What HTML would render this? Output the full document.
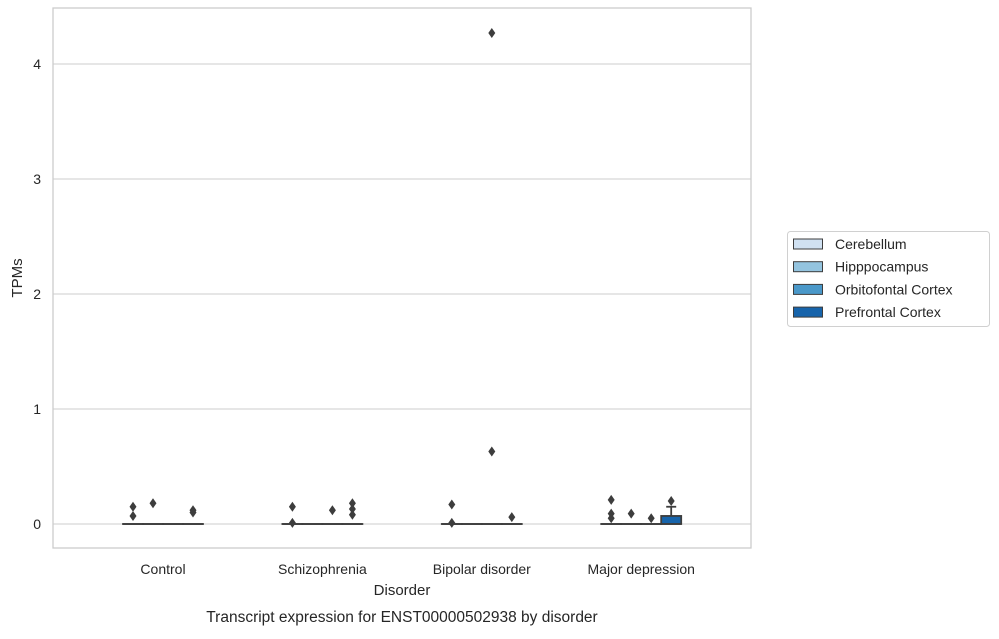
<!DOCTYPE html>
<html><head><meta charset="utf-8"><style>
body{margin:0;background:#fff;width:999px;height:634px;overflow:hidden}
svg{font-family:"Liberation Sans","DejaVu Sans",sans-serif}
</style></head><body>
<svg id="chart" width="999" height="634"></svg>
<script>
const categories=["Control","Schizophrenia","Bipolar disorder","Major depression"];
const hues=["Cerebellum","Hipppocampus","Orbitofontal Cortex","Prefrontal Cortex"];
const hueColors=["#d0e1f2","#94c4df","#4a98c9","#1764ab"];
const yTicks=[0,1,2,3,4];
// box stats per [category][hue]: q1, median, q3, whiskerHigh
const boxQ3=[[0,0,0,0],[0,0,0,0],[0,0,0,0],[0,0,0,0.07]];
const boxWhisker=[[0,0,0,0],[0,0,0,0],[0,0,0,0],[0,0,0,0.15]];
const outliers=[
 [[0.15,0.07],[0.18],[],[0.12,0.10]],
 [[0.15,0.01],[],[0.12],[0.18,0.13,0.08]],
 [[0.17,0.01],[],[4.27,0.63],[0.06]],
 [[0.21,0.09,0.05],[0.09],[0.05],[0.2]]
];
const svg=document.getElementById('chart');
const NS="http://www.w3.org/2000/svg";
function mk(t,a,p){const e=document.createElementNS(NS,t);for(const k in a)e.setAttribute(k,a[k]);(p||svg).appendChild(e);return e;}
const L=53,R=751,T=8,B=548;
const y=v=>524-v*115;
const x=i=>163+i*159.4;
const hx=(i,h)=>x(i)+(h-1.5)*20;
// grid
yTicks.forEach(t=>{
 const g=mk('line',{x1:L,x2:R,y1:y(t),y2:y(t),stroke:'#cccccc','stroke-width':1});
 
 const tx=mk('text',{x:41,y:y(t)+5,'text-anchor':'end','font-size':14,fill:'#262626'});
 tx.textContent=t;
});
const frame=mk('rect',{x:L,y:T,width:R-L,height:B-T,fill:'none',stroke:'#cccccc','stroke-width':1.3});

categories.forEach((c,i)=>{
 const tx=mk('text',{x:x(i),y:574,'text-anchor':'middle','font-size':14,fill:'#262626'});
 tx.textContent=c;
 hues.forEach((h,j)=>{
  const cx=hx(i,j);
  const q3=boxQ3[i][j],wh=boxWhisker[i][j];
  if(q3>0){
   const w=mk('line',{x1:cx,x2:cx,y1:y(q3),y2:y(wh),stroke:'#3d3d3d','stroke-width':1.8});
   
   const cap=mk('line',{x1:cx-5,x2:cx+5,y1:y(wh),y2:y(wh),stroke:'#3d3d3d','stroke-width':1.8});
   
  }
  const b=mk('rect',{x:cx-10,y:y(q3),width:20,height:Math.max(y(0)-y(q3),0.01),fill:hueColors[j],stroke:'#3d3d3d','stroke-width':1.8});
  
  const m=mk('line',{x1:cx-10,x2:cx+10,y1:y(0),y2:y(0),stroke:'#3d3d3d','stroke-width':1.8});
  
  outliers[i][j].forEach(v=>{
   const py=y(v);
   const d=mk('path',{d:`M${cx} ${py-5}L${cx+3.5} ${py}L${cx} ${py+5}L${cx-3.5} ${py}Z`,fill:'#3d3d3d'});
   
  });
 });
});
function label(txt,a,name){const t=mk('text',a);t.textContent=txt;return t;}
label('Disorder',{x:402,y:595,'text-anchor':'middle','font-size':15,fill:'#262626'},'x-axis-title');
label('Transcript expression for ENST00000502938 by disorder',{x:402,y:622,'text-anchor':'middle','font-size':15.5,fill:'#262626'},'chart-title');
label('TPMs',{x:22,y:278,'text-anchor':'middle','font-size':15,fill:'#262626',transform:'rotate(-90 22 278)'},'y-axis-title');
const lg=mk('g',{});
const lb=mk('rect',{x:787.5,y:231.5,width:202,height:95,rx:3,fill:'#fff',stroke:'#d0d0d0'},lg);

hues.forEach((h,j)=>{
 const yy=244+j*22.7;
 const s=mk('rect',{x:793.5,y:yy-5,width:29,height:10,fill:hueColors[j],stroke:'#3d3d3d','stroke-width':1},lg);
 
 const t=mk('text',{x:835,y:yy+5,'font-size':14,fill:'#262626'},lg);t.textContent=h;
 
});
</script>
</body></html>
